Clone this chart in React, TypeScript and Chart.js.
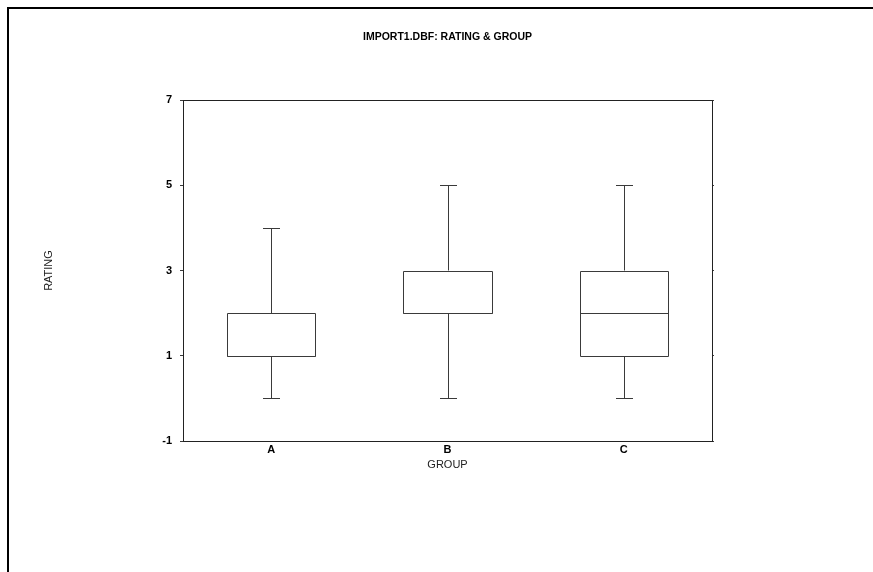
import React, { useEffect, useRef } from "react";
import { Chart, registerables } from "chart.js";

Chart.register(...registerables);

const categories = ["A", "B", "C"];
const mins = [0, 0, 0];
const q1s = [1, 2, 1];
const medians = [1, 2, 2];
const q3s = [2, 3, 3];
const maxs = [4, 5, 5];
const yTickValues = [-1, 1, 3, 5, 7];

const LINE = "#3a3a3a";
const FONT = "Arial, 'Liberation Sans', sans-serif";

const px = (v: number) => Math.round(v) + 0.5;

const boxPlugin = {
  id: "boxWhiskers",
  beforeDatasetsDraw(chart: any) {
    const { ctx } = chart;
    const meta = chart.getDatasetMeta(0);
    const y = chart.scales.y;
    ctx.save();
    ctx.strokeStyle = LINE;
    ctx.lineWidth = 1;
    meta.data.forEach((bar: any, i: number) => {
      const cx = px(bar.x);
      const capHalf = bar.width * 0.095;
      const yMin = px(y.getPixelForValue(mins[i]));
      const yQ1 = px(y.getPixelForValue(q1s[i]));
      const yQ3 = px(y.getPixelForValue(q3s[i]));
      const yMax = px(y.getPixelForValue(maxs[i]));
      ctx.beginPath();
      ctx.moveTo(cx, yMin);
      ctx.lineTo(cx, yQ1);
      ctx.moveTo(cx, yQ3);
      ctx.lineTo(cx, yMax);
      ctx.moveTo(Math.round(cx - capHalf), yMin);
      ctx.lineTo(Math.round(cx + capHalf), yMin);
      ctx.moveTo(Math.round(cx - capHalf), yMax);
      ctx.lineTo(Math.round(cx + capHalf), yMax);
      ctx.stroke();
    });
    ctx.restore();
  },
  afterDatasetsDraw(chart: any) {
    const { ctx, chartArea } = chart;
    const meta = chart.getDatasetMeta(0);
    const y = chart.scales.y;
    ctx.save();
    ctx.strokeStyle = LINE;
    ctx.lineWidth = 1;
    meta.data.forEach((bar: any, i: number) => {
      const xl = px(bar.x - bar.width / 2);
      const xr = px(bar.x + bar.width / 2);
      const yQ1 = px(y.getPixelForValue(q1s[i]));
      const yQ3 = px(y.getPixelForValue(q3s[i]));
      const ym = px(y.getPixelForValue(medians[i]));
      ctx.beginPath();
      ctx.rect(xl, yQ3, xr - xl, yQ1 - yQ3);
      ctx.moveTo(xl, ym);
      ctx.lineTo(xr, ym);
      ctx.stroke();
    });
    ctx.strokeStyle = "#222";
    ctx.strokeRect(
      px(chartArea.left),
      px(chartArea.top),
      Math.round(chartArea.right - chartArea.left),
      Math.round(chartArea.bottom - chartArea.top)
    );
    ctx.restore();
  },
};

export default function App() {
  const ref = useRef<HTMLCanvasElement>(null);
  useEffect(() => {
    if (!ref.current) return;
    const chart = new Chart(ref.current, {
      type: "bar",
      data: {
        labels: categories,
        datasets: [
          {
            data: categories.map((_, i) => [q1s[i], q3s[i]]) as any,
            backgroundColor: "#ffffff",
            borderWidth: 0,
            barPercentage: 0.5,
            categoryPercentage: 1,
          },
        ],
      },
      options: {
        responsive: false,
        animation: false,
        devicePixelRatio: 1,
        layout: { padding: { left: 42, right: 158, top: 0, bottom: 100.6 } },
        plugins: {
          legend: { display: false },
          tooltip: { enabled: false },
          title: {
            display: true,
            text: "IMPORT1.DBF: RATING & GROUP",
            fullSize: false,
            color: "#000",
            font: { family: FONT, size: 10.5, weight: "bold" },
            padding: { top: 31.2, bottom: 56.2 },
          },
        },
        scales: {
          x: {
            type: "category",
            offset: true,
            grid: { display: false, drawTicks: false },
            border: { display: false },
            ticks: {
              color: "#000",
              font: { family: FONT, size: 11, weight: "bold" },
              padding: 2,
            },
            title: {
              display: true,
              text: "GROUP",
              color: "#222",
              font: { family: FONT, size: 11 },
              padding: 0,
            },
            afterFit: (s: any) => {
              s.height = 30.4;
            },
          },
          y: {
            position: "left",
            min: -1,
            max: 7,
            afterBuildTicks: (s: any) => {
              s.ticks = yTickValues.map((v) => ({ value: v }));
            },
            grid: { drawOnChartArea: false, drawTicks: true, tickLength: 3, color: LINE },
            border: { display: false },
            ticks: {
              color: "#000",
              font: { family: FONT, size: 11, weight: "bold" },
              padding: 8,
            },
            title: {
              display: true,
              text: "RATING",
              color: "#222",
              font: { family: FONT, size: 11 },
              padding: 0,
            },
            afterFit: (s: any) => {
              s.width = 141;
            },
          },
          y2: {
            position: "right",
            min: -1,
            max: 7,
            afterBuildTicks: (s: any) => {
              s.ticks = yTickValues.map((v) => ({ value: v }));
            },
            grid: { drawOnChartArea: false, drawTicks: true, tickLength: 2, color: LINE },
            border: { display: false },
            ticks: { display: false },
            afterFit: (s: any) => {
              s.width = 3;
            },
          },
        },
      },
      plugins: [boxPlugin],
    });
    return () => chart.destroy();
  }, []);

  return (
    <div style={{ position: "fixed", left: 0, top: 0, width: 873, height: 572, background: "#fff" }}>
      <canvas ref={ref} width={873} height={572} style={{ position: "absolute", left: 0, top: 0 }} />
      <div
        style={{
          position: "absolute",
          left: 7,
          top: 7,
          width: 900,
          height: 600,
          borderLeft: "2px solid #000",
          borderTop: "2px solid #000",
          pointerEvents: "none",
        }}
      />
    </div>
  );
}
